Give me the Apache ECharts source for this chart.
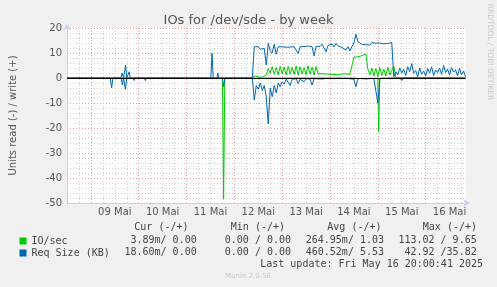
<!DOCTYPE html>
<html><head><meta charset="utf-8">
<script src="https://cdn.jsdelivr.net/npm/echarts@6/dist/echarts.min.js"></script>
<style>html,body{margin:0;padding:0;background:#f0f0f0}#c{width:497px;height:287px}</style>
</head><body><div id="c"></div>
<script>
// hours counted from 08 May 12:00 (left edge) to 16 May 20:00 (right edge)
const dayLabels = ['09 Mai','10 Mai','11 Mai','12 Mai','13 Mai','14 Mai','15 Mai','16 Mai'];

// IO/sec write (+)
const ioWrite = [[0,0],[92,0],[93,0.3],[94,0.8],[95,1],[96,0.5],[97,1.1],[98,0.3],[99,0.6],[100,1.2],[101,3.8],[102,2],[103,4.5],[104,1.5],[105,4.2],[106,1.3],[107,4.6],[108,1.6],[109,4.4],[110,1.2],[111,4.7],[112,1.5],[113,4.3],[114,1.4],[115,4.8],[116,1.2],[117,4.5],[118,1.6],[119,4.2],[120,1.3],[121,4.9],[122,1.5],[123,4.4],[124,1.2],[125,4.6],[126,1.6],[127,1.5],[128,1.7],[129,1.4],[130,1.6],[131,1.3],[132,1.5],[133,1.7],[134,1.4],[135,1.6],[136,1.3],[137,1.5],[138,1.6],[139,1.4],[140,1.7],[141,1.5],[142,1.4],[143,1.6],[144,8.3],[145,8.6],[146,8.5],[147,8.8],[148,8.9],[149,9.2],[150,9.6],[151,3.5],[152,1.2],[153,4],[154,0.8],[155,3.8],[156,0.5],[157,4.2],[158,1],[159,3.6],[160,0.8],[161,4.3],[162,1.2],[163,3],[164,4.7],[165,0.2],[166,0],[200,0]];
// IO/sec read (-), stored as magnitudes
const ioRead = [[0,0],[78,0],[78.6,48.5],[79.2,0],[143,0],[144,0.4],[150,0.4],[151,0],[156,0],[156.4,21.5],[157,0],[200,0]];
// Req Size (KB) write (+)
const reqWrite = [[0,0],[21.2,0],[21.7,0.8],[22.2,0],[27,0],[27.7,2],[28.4,0],[28.8,0],[29.4,5.2],[30,0],[30.6,0],[31.2,2.5],[31.8,0],[72.2,0],[72.8,9.9],[73.4,0],[75.2,0],[75.7,2],[76.2,0],[93,0],[94,12.5],[95,12],[96,12.5],[97,11.5],[98,12.3],[99,11.8],[100,5.2],[101,13.9],[102,11],[103,10],[104,13.5],[105,9.5],[106,12.5],[107,12.2],[108,12.5],[109,12],[110,12.3],[111,12],[112,12.4],[113,12.2],[114,12.5],[115,12.3],[116,9.8],[117,12.5],[118,11.8],[119,12.6],[120,12.3],[121,12.8],[122,12.2],[123,12.5],[124,8.8],[125,12.7],[126,13.2],[127,12.6],[128,13.5],[129,12],[130,10.5],[131,13],[132,12.5],[133,13.6],[134,12.4],[135,13.8],[136,12.9],[137,13.2],[138,12.2],[139,12.8],[140,11.2],[141,12.5],[142,10.8],[143,12.6],[144,14],[145,17.5],[146,14.6],[147,14],[148,13.5],[149,13.8],[150,13.3],[151,13.9],[152,13.2],[153,14.2],[154,13.6],[155,13.9],[156,13.4],[157,14],[158,13.5],[159,13.7],[160,14.3],[161,13.8],[162,14.5],[163,14.2],[164,0.5],[165,2.5],[166,1.2],[167,4],[168,2],[169,3.5],[170,1],[171,4.5],[172,2.5],[173,5.8],[174,2],[175,3],[176,0.5],[177,4],[178,1.5],[179,2.8],[180,0.8],[181,3.8],[182,2],[183,4.5],[184,1],[185,3.2],[186,2.2],[187,4],[188,1.5],[189,5],[190,2.2],[191,3.6],[192,1.2],[193,4.2],[194,2.4],[195,3.3],[196,0.8],[197,3.8],[198,1.3],[199,2.8],[200,0.5]];
// Req Size (KB) read (-), stored as magnitudes
const reqRead = [[0,0],[21.7,0],[22.4,4],[23,0],[27.2,0],[27.8,2.8],[28.4,0],[28.8,0],[29.3,4.5],[30,0],[33.2,0],[33.7,1],[34.2,0],[38.8,0],[39.3,1],[39.8,0],[63.3,0],[63.8,0.5],[64.3,0],[78,0],[78.6,3.5],[79.2,0],[87.2,0],[87.7,0.8],[88.2,0],[93,0],[94,8.8],[95,3],[96,4.5],[97,2],[98,5],[99,3],[100,7.5],[101,18.4],[102,4],[103,7.5],[104,3],[105,6],[106,2],[107,3.5],[108,1.5],[109,2.5],[110,0.5],[111,1],[112,3],[113,0.5],[114,0.8],[115,0.3],[116,2.2],[117,0.5],[118,0.3],[119,1.5],[120,0.2],[121,0.3],[122,0.5],[123,2.8],[124,0.3],[125,0.2],[126,0.3],[127,0.1],[128,0.4],[130,0.2],[132,0.1],[134,0.3],[136,0.1],[138,0.2],[140,0.1],[142,0.3],[144,0.5],[145,3.5],[146,0.3],[148,0.1],[150,0.2],[152,0.1],[154,0.2],[155,0.3],[156,10],[157,0.2],[158,0],[167,0],[168,1],[169,0],[200,0]];

const GREEN = '#00CC00', BLUE = '#0066B3';
const MINOR = '#cfcfcf', MAJOR = '#e6a3a3', AXIS = '#c8cff2';
const neg = a => a.map(p => [p[0], -p[1]]);

const chart = echarts.init(document.getElementById('c'), null, {renderer: 'canvas'});
const lineS = (name, data, color) => ({
  name, type: 'line', data, showSymbol: false, symbol: 'none',
  lineStyle: {color, width: 1}, itemStyle: {color}, animation: false
});
const mono = '10px "DejaVu Sans Mono"';
const txt = (text, x, y, align) => ({type: 'text', x, y, style: {text, font: mono, fill: '#444', textAlign: align || 'left', textVerticalAlign: 'middle'}});

chart.setOption({
  backgroundColor: '#f0f0f0',
  animation: false,
  title: {text: 'IOs for /dev/sde - by week', left: 'center', top: 9,
    textStyle: {fontFamily: 'DejaVu Sans', fontSize: 13, fontWeight: 'normal', color: '#555'}},
  legend: {orient: 'vertical', left: 14.5, top: 230, itemWidth: 7, itemHeight: 7, itemGap: 0,
    icon: 'rect', data: ['IO/sec', 'Req Size (KB)'],
    textStyle: {fontFamily: 'DejaVu Sans Mono', fontSize: 10, color: '#444', lineHeight: 12}},
  grid: {left: 65.5, right: 31.5, top: 28, bottom: 84, show: true, backgroundColor: '#fff', borderWidth: 0},
  xAxis: {type: 'value', min: 0, max: 200, interval: 6,
    axisLine: {onZero: false, lineStyle: {color: AXIS}, symbol: ['none', 'arrow'], symbolSize: [6, 6], symbolOffset: [0, 4]},
    axisTick: {show: false},
    axisLabel: {margin: 4, fontFamily: 'DejaVu Sans', fontSize: 10, color: '#555',
      formatter: v => (v % 24 === 0 && v > 0 && v < 200) ? dayLabels[v / 24 - 1] : ''},
    splitLine: {show: true, showMaxLine: false, lineStyle: {color: [MINOR, MINOR, MAJOR, MINOR], type: [1, 2], width: 1}}
  },
  yAxis: {type: 'value', min: -50, max: 20, interval: 10,
    name: 'Units read (-) / write (+)', nameLocation: 'middle', nameGap: 49,
    nameTextStyle: {fontFamily: 'DejaVu Sans', fontSize: 10, color: '#555'},
    axisLine: {show: true, lineStyle: {color: AXIS}, symbol: ['none', 'arrow'], symbolSize: [6, 6], symbolOffset: [0, 4]},
    axisTick: {show: false},
    axisLabel: {margin: 5, fontFamily: 'DejaVu Sans', fontSize: 10, color: '#555'},
    splitLine: {show: true, lineStyle: {color: MAJOR, type: [1, 2], width: 1}},
    minorTick: {show: false, splitNumber: 5},
    minorSplitLine: {show: true, lineStyle: {color: MINOR, type: [1, 2], width: 1}}
  },
  series: [
    lineS('IO/sec', neg(ioRead), GREEN),
    lineS('IO/sec', ioWrite, GREEN),
    lineS('Req Size (KB)', neg(reqRead), BLUE),
    Object.assign(lineS('Req Size (KB)', reqWrite, BLUE), {
      markLine: {silent: true, symbol: 'none', label: {show: false}, animation: false,
        lineStyle: {color: '#000', type: 'solid', width: 1}, data: [{yAxis: 0}]}
    })
  ],
  graphic: [
    txt('Cur (-/+)', 188.5, 227, 'right'),
    txt('Min (-/+)', 285, 227, 'right'),
    txt('Avg (-/+)', 381.5, 227, 'right'),
    txt('Max (-/+)', 477, 227, 'right'),
    txt('3.89m/ 0.00', 196.7, 240, 'right'),
    txt('0.00 / 0.00', 291, 240, 'right'),
    txt('264.95m/ 1.03', 384, 240, 'right'),
    txt('113.02 / 9.65', 476.7, 240, 'right'),
    txt('18.60m/ 0.00', 196.7, 252, 'right'),
    txt('0.00 / 0.00', 291, 252, 'right'),
    txt('460.52m/ 5.53', 384, 252, 'right'),
    txt('42.92 /35.82', 476.7, 252, 'right'),
    txt('Last update: Fri May 16 20:00:41 2025', 483, 264, 'right'),
    {type: 'text', x: 248, y: 276, style: {text: 'Munin 2.0.56', font: '7px "DejaVu Sans"', fill: '#c8c8c8', textAlign: 'center', textVerticalAlign: 'middle'}},
    {type: 'text', x: 490, y: 52, rotation: -Math.PI / 2, style: {text: 'RRDTOOL / TOBI OETIKER', font: '7.5px "DejaVu Sans"', fill: '#c8c8c8', textAlign: 'center', textVerticalAlign: 'middle'}}
  ]
});
</script></body></html>
